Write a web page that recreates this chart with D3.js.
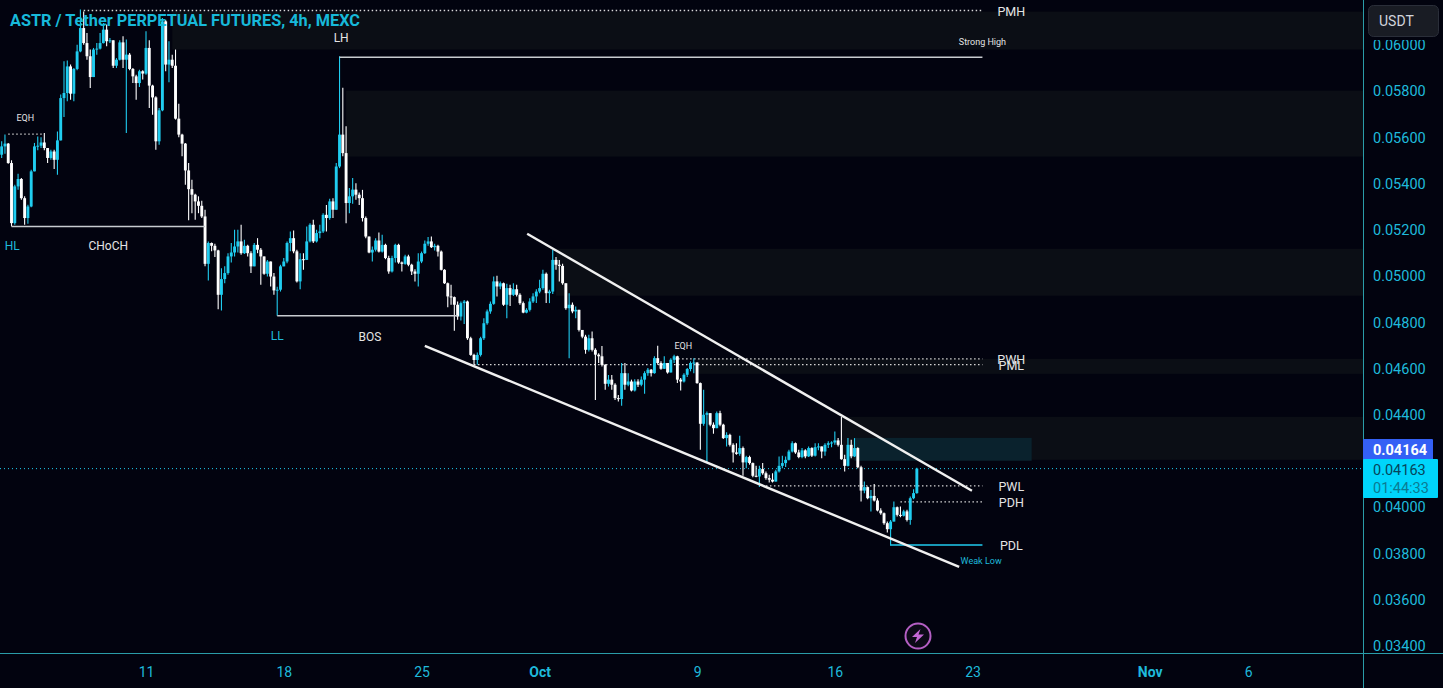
<!DOCTYPE html>
<html><head><meta charset="utf-8">
<script src="https://cdn.jsdelivr.net/npm/d3@7"></script>
<style>
html,body{margin:0;padding:0;background:#02030f;overflow:hidden}
svg{display:block}
text{font-family:Roboto,"Open Sans",sans-serif}
</style></head><body>
<svg id="c" width="1443" height="688"></svg>
<script>
// prices in units of 0.00001
const firstOpen = 5521;
const closes = [
5557,5569,5485,5225,5384,5416,5333,5247,5297,5449,
5557,5560,5574,5550,5507,5535,5499,5583,5766,5788,
5903,5785,5892,5968,6069,6004,5947,5857,5976,5980,
6004,6062,6012,6016,5906,5932,6007,5932,5954,5892,
5860,5831,5882,5872,5983,5820,5769,5579,5713,6098,
5911,5932,5906,5677,5608,5569,5453,5372,5348,5319,
5300,5254,5049,5139,5127,5107,4915,4983,5009,5081,
5098,5124,5146,5095,5127,5095,5038,5131,5110,5081,
5006,5059,4994,4934,4937,5038,5059,5139,5160,5103,
4973,5069,5066,5146,5218,5146,5182,5189,5261,5247,
5319,5283,5470,5608,5528,5312,5341,5370,5348,5333,
5247,5167,5098,5110,5150,5102,5131,5074,5016,5074,
5131,5055,5049,5081,5045,5016,5006,5059,5095,5136,
5146,5121,5127,5102,5023,4965,4908,4905,4872,4821,
4879,4886,4727,4655,4633,4655,4727,4792,4843,4876,
4973,4951,4965,4872,4944,4915,4939,4915,4879,4838,
4850,4886,4908,4929,4944,5006,4922,4929,5066,5045,
5040,4965,4857,4872,4843,4850,4763,4734,4677,4727,
4677,4656,4649,4612,4530,4548,4526,4468,4464,4576,
4526,4540,4501,4540,4526,4548,4576,4591,4576,4641,
4620,4595,4620,4579,4634,4649,4548,4540,4569,4594,
4620,4622,4533,4357,4396,4403,4353,4338,4403,4353,
4295,4309,4266,4233,4227,4252,4190,4213,4187,4132,
4129,4161,4143,4122,4115,4107,4151,4175,4187,4201,
4237,4273,4233,4213,4242,4216,4252,4219,4256,4259,
4237,4266,4273,4276,4285,4266,4204,4175,4266,4216,
4252,4169,4068,4083,4035,4045,4025,3982,3970,3927,
3901,3934,3996,3963,3959,3978,3941,4035,4057,4163];
const highs = [
5579,5608,5572,5497,5391,5439,5420,5341,5305,5456,
5572,5600,5597,5615,5550,5543,5543,5622,5781,5925,
5929,5911,5896,5997,6149,6141,6048,5976,5983,6004,
6048,6091,6084,6026,6012,5939,6016,6033,6019,5961,
5896,5867,5889,5886,6055,6016,5824,5774,5723,6113,
6105,6012,5954,5976,5742,5612,5572,5485,5413,5352,
5341,5322,5283,5146,5141,5136,5110,5030,5038,5095,
5139,5196,5196,5218,5153,5131,5103,5139,5160,5117,
5081,5066,5059,5009,4950,5045,5074,5146,5189,5193,
5110,5095,5095,5211,5225,5240,5196,5218,5268,5304,
5331,5333,5485,5947,5811,5644,5377,5420,5398,5358,
5369,5254,5167,5124,5160,5185,5175,5136,5084,5084,
5136,5136,5059,5088,5088,5049,5026,5095,5102,5150,
5165,5167,5136,5131,5107,5026,4968,4958,4908,4886,
4886,4893,4890,4734,4660,4665,4734,4814,4851,4886,
4994,4997,4973,4968,4963,4958,4965,4958,4922,4886,
4857,4900,4922,4939,4980,5023,5012,4937,5110,5078,
5066,5049,4965,4922,4882,4864,4850,4763,4742,4742,
4756,4684,4662,4694,4616,4568,4568,4532,4482,4620,
4620,4576,4548,4550,4550,4562,4584,4598,4594,4649,
4695,4627,4649,4620,4641,4656,4651,4555,4576,4598,
4627,4641,4623,4536,4504,4410,4400,4363,4410,4413,
4357,4320,4314,4273,4273,4305,4259,4219,4219,4190,
4175,4175,4187,4151,4136,4143,4158,4216,4219,4215,
4245,4281,4276,4245,4252,4247,4259,4256,4273,4273,
4256,4273,4281,4281,4324,4295,4386,4223,4295,4288,
4295,4256,4175,4107,4086,4071,4097,4035,3992,3973,
3934,3941,4021,3999,3999,3985,3985,4042,4074,4167];
const lows = [
5507,5525,5482,5211,5218,5370,5326,5218,5222,5294,
5449,5540,5550,5540,5485,5499,5459,5434,5583,5684,
5752,5759,5752,5886,5964,5997,5932,5810,5857,5954,
5976,6002,5990,6004,5896,5896,5929,5896,5615,5886,
5831,5759,5814,5846,5867,5723,5694,5543,5564,5709,
5882,5834,5896,5673,5597,5514,5391,5237,5268,5240,
5268,5247,5038,4977,5103,5078,4853,4847,4965,5002,
5055,5081,5098,5088,5092,5081,5009,5038,5095,4958,
5002,4994,4951,4915,4824,4929,5038,5052,5103,5095,
4968,4939,5023,5066,5141,5139,5141,5160,5182,5189,
5240,5247,5286,5463,5514,5225,5268,5309,5326,5304,
5232,5160,5095,5059,5102,5098,5098,5069,5006,5012,
5055,5049,5016,5045,5038,5001,4973,4951,5052,5092,
5127,5117,5107,5081,5020,4962,4861,4872,4760,4807,
4804,4789,4720,4651,4612,4612,4648,4720,4785,4833,
4872,4908,4939,4867,4814,4867,4910,4908,4872,4835,
4835,4843,4879,4879,4922,4937,4879,4879,4919,5023,
4973,4958,4850,4641,4835,4814,4756,4727,4660,4670,
4670,4460,4620,4605,4504,4518,4504,4460,4453,4435,
4504,4519,4497,4497,4516,4519,4487,4565,4562,4574,
4612,4591,4594,4574,4579,4620,4533,4501,4536,4559,
4584,4576,4530,4245,4348,4190,4346,4314,4338,4346,
4291,4259,4259,4190,4223,4219,4132,4165,4180,4126,
4126,4083,4136,4115,4103,4103,4107,4146,4165,4170,
4198,4233,4227,4208,4208,4208,4213,4213,4216,4242,
4208,4219,4252,4256,4266,4259,4201,4151,4172,4208,
4213,4165,4021,4057,4031,3978,4021,3978,3963,3920,
3887,3829,3941,3956,3953,3956,3934,3920,4031,4054];

const priceTicks = [3400,3600,3800,4000,4200,4400,4600,4800,5000,5200,5400,5600,5800,6000];
const dateTicks = [["2023-09-11","11"],["2023-09-18","18"],["2023-09-25","25"],["2023-10-01","Oct"],["2023-10-09","9"],["2023-10-16","16"],["2023-10-23","23"],["2023-11-01","Nov"],["2023-11-06","6"]];

// [top price, bottom price, first candle]
const zones = [[6140,5976,52],[5798,5513,105],[5114,4911,169],[4638,4573,212],[4387,4201,256]];
const fvgZone = [4296,4197,260,314];
// [name, price, from candle]
const levels = [["PMH",6145,25],["PWH",4638,205],["PML",4613,144],["PWL",4088,233],["PDH",4019,274]];
const channels = [[160.2,5179,295.8,4067],[129,4694,291.9,3738]];
const solidWhite = [[103,5943,299],[3,5210,62],[84,4824,139]];
const pdl = {price:3833,from:271,to:299};
const eqhLine = {price:5610,from:2,to:13};
const levelEnd = 299, levelLabelAt = 307.8;

const fg = "#1fbadb", up = "#20cdf0", down = "#ffffff";
const svg = d3.select("#c");
const W = 1363, H = 653;
const y = d3.scaleLinear().domain([0.034,0.060]).range([645,44]);
const x = d3.scaleUtc().domain([new Date("2023-09-11T00:00Z"),new Date("2023-10-23T00:00Z")]).range([146,972.6]);
const start = Date.UTC(2023,8,11) - 44*4*3600e3;
const dateOf = i => new Date(start + i*4*3600e3);
const xi = i => x(dateOf(i));
const yp = p => y(p/1e5);

svg.append("rect").attr("width",1443).attr("height",688).attr("fill","#02030f");
const chart = svg.append("svg").attr("width",W).attr("height",H).attr("overflow","hidden");

chart.selectAll("rect.z").data(zones).join("rect").attr("class","z")
 .attr("x",d=>xi(d[2])).attr("y",d=>yp(d[0])).attr("width",d=>W-xi(d[2])).attr("height",d=>yp(d[1])-yp(d[0])).attr("fill","#0b0e15");
chart.append("rect").attr("x",xi(fvgZone[2])).attr("y",yp(fvgZone[0])).attr("width",xi(fvgZone[3])-xi(fvgZone[2])).attr("height",yp(fvgZone[1])-yp(fvgZone[0])).attr("fill","#0a222d");

// price line
chart.append("line").attr("x1",0).attr("x2",W).attr("y1",yp(closes[closes.length-1])).attr("y2",yp(closes[closes.length-1]))
 .attr("stroke",up).attr("stroke-dasharray","1 3").attr("stroke-width",1);

// dotted levels
chart.selectAll("line.l").data(levels).join("line").attr("class","l")
 .attr("x1",d=>xi(d[2])).attr("x2",xi(levelEnd)).attr("y1",d=>yp(d[1])).attr("y2",d=>yp(d[1]))
 .attr("stroke","#d8d8d8").attr("stroke-width",1.3).attr("stroke-dasharray","1.5 2.5");
chart.append("line").attr("x1",xi(eqhLine.from)).attr("x2",xi(eqhLine.to)).attr("y1",yp(eqhLine.price)).attr("y2",yp(eqhLine.price))
 .attr("stroke","#cccccc").attr("stroke-width",1.2).attr("stroke-dasharray","1.5 2.5");

// candles
const opens = closes.map((c,i)=> i? closes[i-1] : firstOpen);
const candles = closes.map((c,i)=>({i,o:opens[i],c,h:Math.max(highs[i],c,opens[i]),l:Math.min(lows[i],c,opens[i])}));
const col = d => d.c>=d.o ? up : down;
chart.selectAll("line.w").data(candles).join("line").attr("class","w")
 .attr("x1",d=>xi(d.i)).attr("x2",d=>xi(d.i)).attr("y1",d=>yp(d.h)).attr("y2",d=>yp(d.l))
 .attr("stroke",col).attr("stroke-width",1.1);
chart.selectAll("rect.b").data(candles).join("rect").attr("class","b")
 .attr("x",d=>xi(d.i)-1.45).attr("width",2.9)
 .attr("y",d=>yp(Math.max(d.o,d.c))).attr("height",d=>Math.max(1,yp(Math.min(d.o,d.c))-yp(Math.max(d.o,d.c))))
 .attr("fill",col);

// solid structure lines
chart.selectAll("line.s").data(solidWhite).join("line").attr("class","s")
 .attr("x1",d=>xi(d[0])).attr("x2",d=>xi(d[2])).attr("y1",d=>yp(d[1])).attr("y2",d=>yp(d[1]))
 .attr("stroke","#c8cbd0").attr("stroke-width",1.5);
chart.append("line").attr("x1",xi(pdl.from)).attr("x2",xi(pdl.to)).attr("y1",yp(pdl.price)).attr("y2",yp(pdl.price))
 .attr("stroke",up).attr("stroke-width",1.5);

// channel
chart.selectAll("line.c").data(channels).join("line").attr("class","c")
 .attr("x1",d=>xi(d[0])).attr("y1",d=>yp(d[1])).attr("x2",d=>xi(d[2])).attr("y2",d=>yp(d[3]))
 .attr("stroke","#f0f0f0").attr("stroke-width",2.4);

// labels
const tl = (t,i,p,size,fill,weight) => chart.append("text").text(t).attr("x",xi(i)).attr("y",yp(p)+1)
 .attr("text-anchor","middle").attr("dominant-baseline","central").attr("font-size",size).attr("fill",fill).attr("font-weight",weight||400);
levels.forEach(d=>tl(d[0],levelLabelAt,d[1],12.5,"#e4e4e4"));
tl("PDL",levelLabelAt,pdl.price,12.5,"#e4e4e4");
tl("LH",103.5,6032,12,"#e4e4e4");
tl("Strong High",299,6015,9,"#e4e4e4");
tl("EQH",7.2,5685,9,"#e4e4e4");
tl("EQH",207.8,4698,9,"#e4e4e4");
tl("HL",3.2,5132,12,fg);
tl("CHoCH",32.5,5132,12,"#e4e4e4");
tl("LL",84,4740,12,fg);
tl("BOS",112.3,4735,12,"#e4e4e4");
tl("Weak Low",298.6,3768,9,fg);

// title
svg.append("text").text("ASTR / Tether PERPETUAL FUTURES, 4h, MEXC").attr("x",10).attr("y",26)
 .attr("font-size",16.3).attr("font-weight",700).attr("fill","#17b9da");

// axes frame
svg.append("line").attr("x1",W+.5).attr("x2",W+.5).attr("y1",0).attr("y2",688).attr("stroke","#2a9ca8");
svg.append("line").attr("x1",0).attr("x2",1443).attr("y1",H+.5).attr("y2",H+.5).attr("stroke","#2a9ca8");

// y axis labels
const yAxis = d3.axisRight(y).tickValues(priceTicks.map(p=>p/1e5)).tickSize(0).tickFormat(d3.format(".5f"));
const ga = svg.append("g").attr("transform",`translate(${W+10},1)`).call(yAxis);
ga.select(".domain").remove();
ga.selectAll("text").attr("x",0).attr("fill",fg).attr("font-size",14.5).style("font-family","Roboto");

// x axis labels
const parsed = dateTicks.map(d=>new Date(d[0]+"T00:00Z"));
const xAxis = d3.axisBottom(x).tickValues(parsed).tickSize(0).tickFormat((d,i)=>dateTicks[i][1]);
const gb = svg.append("g").attr("transform",`translate(0,${H+11})`).call(xAxis);
gb.select(".domain").remove();
gb.selectAll("text").attr("fill",fg).attr("font-size",14).style("font-family","Roboto")
  .attr("font-weight",(d,i)=>/[A-Za-z]/.test(dateTicks[i][1])?700:400);

// USDT button, over a strip that hides the top of the axis label
svg.append("rect").attr("x",W+1).attr("y",0).attr("width",1443-W).attr("height",40).attr("fill","#02030f");
svg.append("rect").attr("x",1368.5).attr("y",5.5).attr("width",70).attr("height",31).attr("rx",5).attr("fill","#191c24").attr("stroke","#2a2e39");
svg.append("text").text("USDT").attr("x",1379).attr("y",26).attr("font-size",14).attr("fill","#d1d4dc");

// price tags
svg.append("rect").attr("x",1363).attr("y",439).attr("width",70).attr("height",21).attr("rx",1).attr("fill","#3460f5");
svg.append("text").text("0.04164").attr("x",1373).attr("y",454.5).attr("font-size",14.5).attr("font-weight",700).attr("fill","#ffffff");
svg.append("rect").attr("x",1363).attr("y",459).attr("width",75).attr("height",39).attr("rx",1).attr("fill","#00d5fb");
svg.append("text").text("0.04163").attr("x",1373).attr("y",475).attr("font-size",14.5).attr("fill","#06445a");
svg.append("text").text("01:44:33").attr("x",1373).attr("y",493).attr("font-size",14.5).attr("fill","#0b7a92");

// bolt icon
const icon = svg.append("g").attr("transform","translate(918,636)");
icon.append("circle").attr("r",12.5).attr("fill","#0c0a18").attr("stroke","#b45fc4").attr("stroke-width",2);
icon.append("path").attr("d","M2.5,-7 L-6,1 L-1,1 L-3,7 L6,-1.5 L0.5,-1.5 Z").attr("fill","#c468d6");
</script></body></html>
